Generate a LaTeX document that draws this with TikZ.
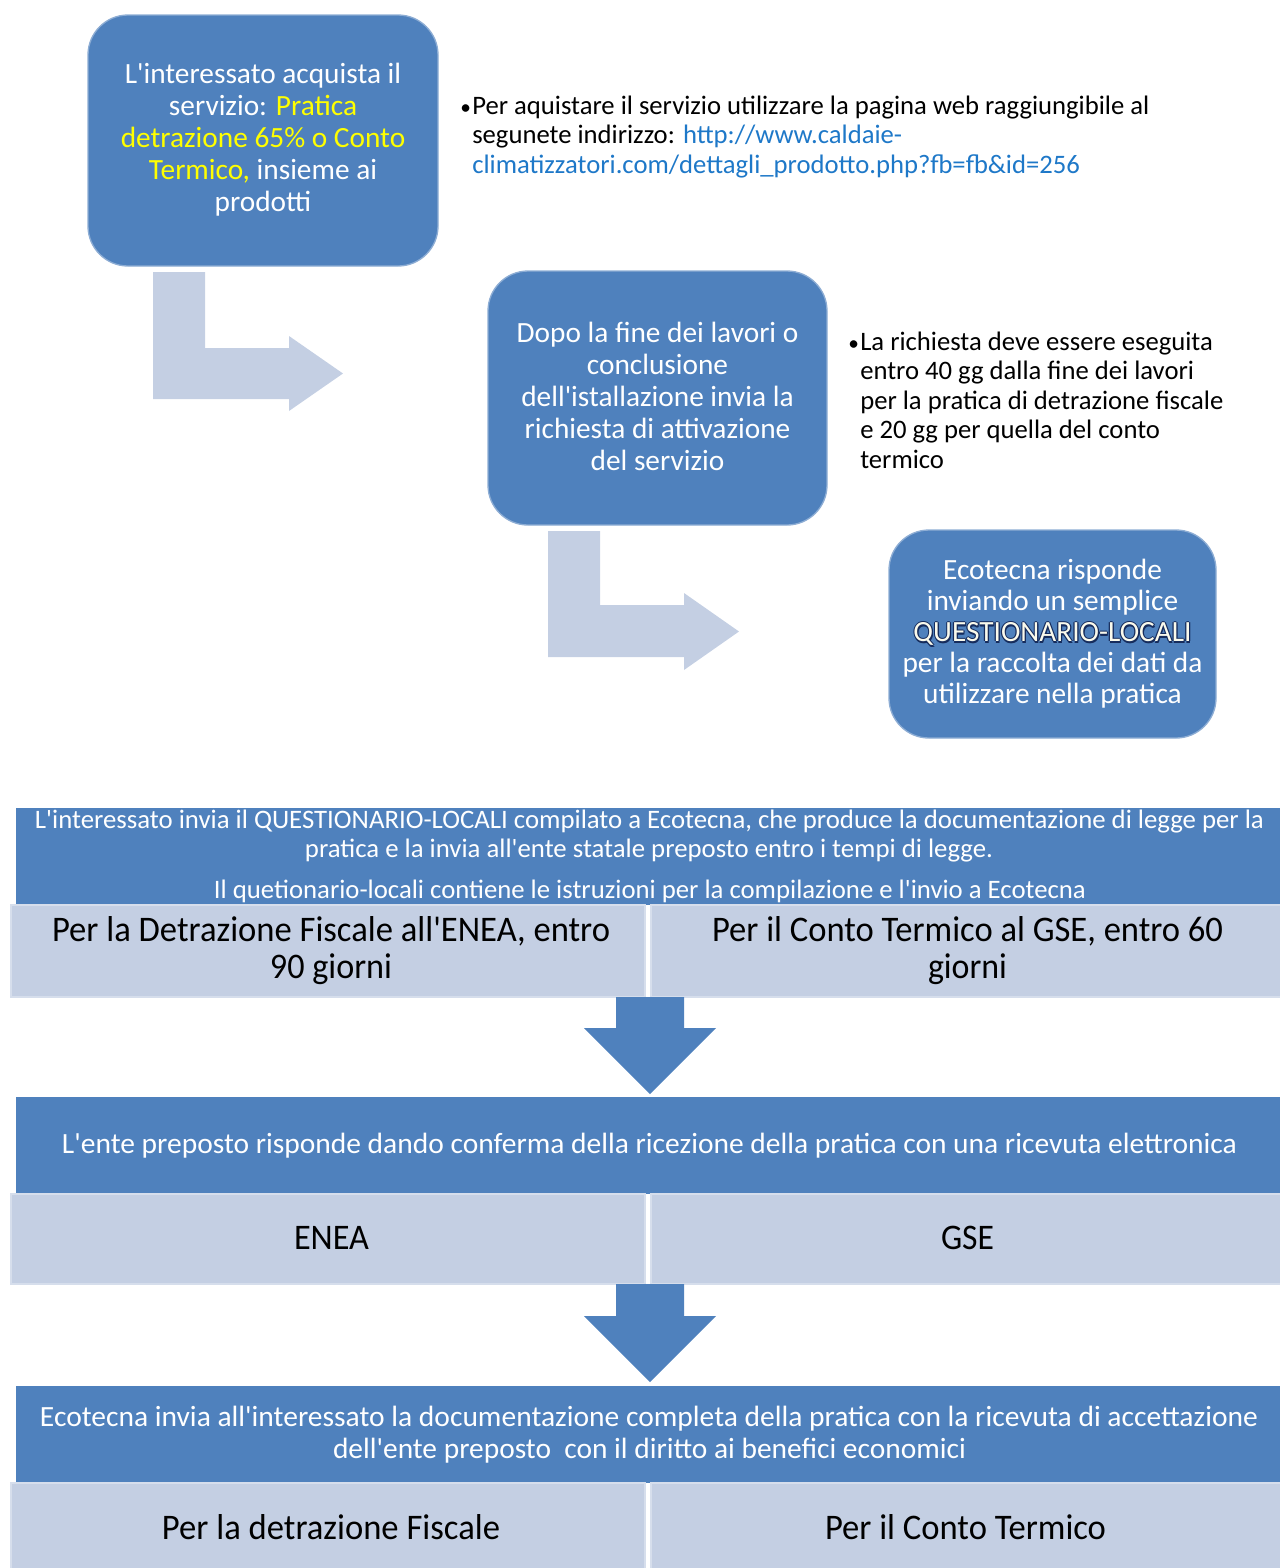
\documentclass[tikz,border=0pt]{standalone}
\usepackage{fontspec}
\setmainfont{Carlito}[Ligatures=TeXOff]
\usetikzlibrary{fit}
\definecolor{dblue}{RGB}{79,129,189}
\definecolor{lblue}{RGB}{196,207,227}
\definecolor{lbord}{RGB}{214,222,236}
\definecolor{linkc}{RGB}{30,120,200}
\definecolor{yel}{RGB}{255,255,0}
\definecolor{glowc}{RGB}{22,44,92}
\definecolor{cream}{RGB}{250,250,236}
\newcommand\fitw[2]{\resizebox{#1}{\height}{#2}}
\newcommand\glowtext[1]{\leavevmode
 \rlap{\hspace*{-0.9pt}\textcolor{glowc}{#1}}%
 \rlap{\hspace*{0.9pt}\textcolor{glowc}{#1}}%
 \rlap{\raisebox{0.9pt}{\textcolor{glowc}{#1}}}%
 \rlap{\raisebox{-0.9pt}{\textcolor{glowc}{#1}}}%
 \rlap{\hspace*{0.8pt}\raisebox{-1.2pt}{\textcolor{glowc}{#1}}}%
 \textcolor{cream}{#1}}
\begin{document}
\begin{tikzpicture}[x=0.75pt,y=-0.75pt,
 rbox/.style={rounded corners=30pt, fill=dblue, draw=white!35!dblue, line width=1pt, inner sep=0pt},
 btext/.style={inner sep=0pt, text=white, align=center},
 band/.style={fill=dblue, inner sep=0pt},
 lbox/.style={fill=lblue, draw=lbord, line width=1.5pt, inner sep=0pt},
 wl/.style={inner sep=0pt, text height=12.9pt, text depth=0pt, text=white, font=\fontsize{20}{22}\selectfont},
 wlb/.style={inner sep=0pt, text height=14.2pt, text depth=0pt, text=white, font=\fontsize{22}{24}\selectfont},
 bl/.style={inner sep=0pt, text height=17.4pt, text depth=0pt, text=black, font=\fontsize{27}{30}\selectfont},
 note/.style={anchor=west, align=left, inner sep=0pt, text=black, font=\fontsize{20}{22.1}\selectfont},
 arrL/.style={fill=lblue},
 arrD/.style={fill=dblue}]
\useasboundingbox (0,0) rectangle (1279,1568);

% top rounded boxes
\node[rbox, fit={(88,15) (438,266)}] (box1) {};
\node[btext, font=\fontsize{22}{24}\selectfont] (box1t) at ([yshift=0.5pt]box1.center)
 {L'interessato acquista il\\ servizio: \textcolor{yel}{Pratica}\\ \textcolor{yel}{detrazione 65\% o Conto}\\ \textcolor{yel}{Termico,} insieme ai\\ prodotti};
\node[rbox, fit={(488,271) (827,525)}] (box2) {};
\node[btext, font=\fontsize{22}{24}\selectfont] (box2t) at ([yshift=1.5pt]box2.center)
 {Dopo la fine dei lavori o\\ conclusione\\ dell'istallazione invia la\\ richiesta di attivazione\\ del servizio};
\node[rbox, fit={(889,530) (1216,738)}] (box3) {};
\node[btext, font=\fontsize{22}{23.25}\selectfont] (box3t) at (box3.center)
 {Ecotecna risponde\\ inviando un semplice\\ \glowtext{QUESTIONARIO-LOCALI}\\ per la raccolta dei dati da\\ utilizzare nella pratica};

% notes
\node[note] (note1) at (472,137)
 {\llap{\scalebox{0.8}{•}\hspace{1pt}}Per aquistare il servizio utilizzare la pagina web raggiungibile al\\
  segunete indirizzo: \textcolor{linkc}{http://www.caldaie-}\\
  \textcolor{linkc}{climatizzatori.com/dettagli\_prodotto.php?fb=fb\&id=256}};
\node[note] (note2) at (860,400)
 {\llap{\scalebox{0.8}{•}\hspace{1pt}}La richiesta deve essere eseguita\\
  entro 40 gg dalla fine dei lavori\\
  per la pratica di detrazione fiscale\\
  e 20 gg per quella del conto\\
  termico};

% bent arrows
\fill[arrL] (153,272) -- (205,272) -- (205,348) -- (289,348) -- (289,336) -- (343,373.5) -- (289,411) -- (289,399) -- (153,399) -- cycle;
\fill[arrL] (548,531) -- (600,531) -- (600,605) -- (684,605) -- (684,593) -- (739,631.5) -- (684,670) -- (684,657) -- (548,657) -- cycle;

% band 1
\node[band, fit={(16,808) (1290,905)}] (band1) {};
\node[lbox, fit={(11,905) (645,997)}] (l1a) {};
\node[lbox, fit={(651,905) (1290,997)}] (l1b) {};
\node[wl] (t1a) at (649.5,820) {\fitw{921.75pt}{L'interessato invia il QUESTIONARIO-LOCALI compilato a Ecotecna, che produce la documentazione di legge per la}};
\node[wl] (t1b) at (649,849) {\fitw{516pt}{pratica e la invia all'ente statale preposto entro i tempi di legge.}};
\node[wl] (t1c) at (650,890) {\fitw{654pt}{Il quetionario-locali contiene le istruzioni per la compilazione e l'invio a Ecotecna}};
\node[bl] (t1d) at (331,930) {\fitw{418.5pt}{Per la Detrazione Fiscale all'ENEA, entro}};
\node[bl] (t1e) at (331,967) {\fitw{91.5pt}{90 giorni}};
\node[bl] (t1f) at (967.5,930) {\fitw{383.25pt}{Per il Conto Termico al GSE, entro 60}};
\node[bl] (t1g) at (967.5,967) {\fitw{59.25pt}{giorni}};

% arrow A
\fill[arrD] (616,997) -- (684,997) -- (684,1028) -- (716,1028) -- (650,1094) -- (584,1028) -- (616,1028) -- cycle;

% band 2
\node[band, fit={(16,1097) (1290,1194)}] (band2) {};
\node[lbox, fit={(11,1194) (645,1284)}] (l2a) {};
\node[lbox, fit={(651,1194) (1290,1284)}] (l2b) {};
\node[wlb] (t2a) at (649.5,1144) {\fitw{881.25pt}{L'ente preposto risponde dando conferma della ricezione della pratica con una ricevuta elettronica}};
\node[bl] (t2b) at (331.5,1238) {\fitw{56.25pt}{ENEA}};
\node[bl] (t2c) at (967.5,1238) {\fitw{39.75pt}{GSE}};

% arrow B
\fill[arrD] (616,1284) -- (684,1284) -- (684,1316) -- (716,1316) -- (650,1382) -- (584,1316) -- (616,1316) -- cycle;

% band 3
\node[band, fit={(16,1386) (1290,1483)}] (band3) {};
\node[lbox, fit={(11,1483) (645,1580)}] (l3a) {};
\node[lbox, fit={(651,1483) (1290,1580)}] (l3b) {};
\node[wlb] (t3a) at (649,1417) {\fitw{913.5pt}{Ecotecna invia all'interessato la documentazione completa della pratica con la ricevuta di accettazione}};
\node[wlb] (t3b) at (649.5,1449) {\fitw{474.75pt}{dell'ente preposto\ \ con il diritto ai benefici economici}};
\node[bl] (t3c) at (331,1528) {\fitw{253.5pt}{Per la detrazione Fiscale}};
\node[bl] (t3d) at (965.5,1528) {\fitw{210.75pt}{Per il Conto Termico}};
\end{tikzpicture}
\end{document}
